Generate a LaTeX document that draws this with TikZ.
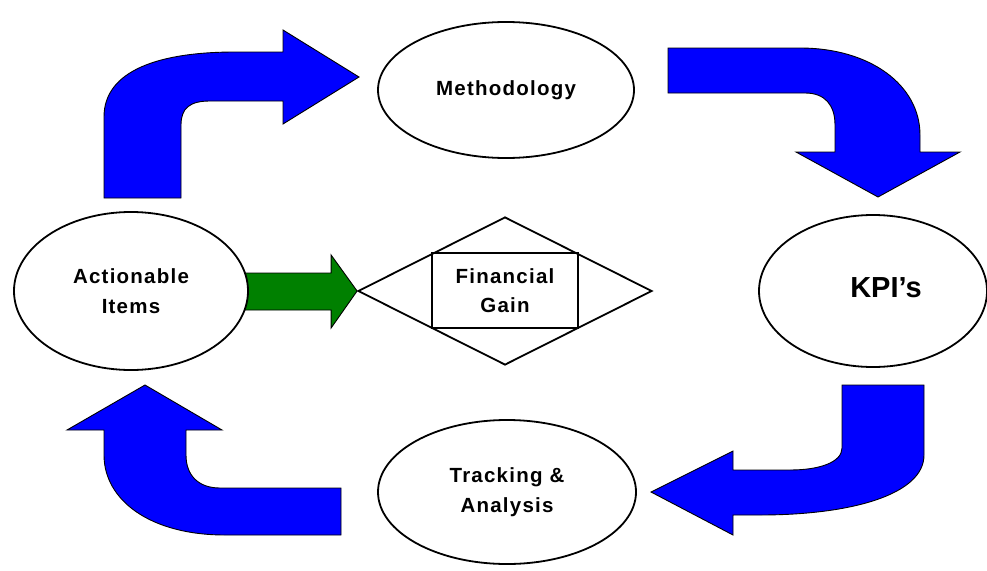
\documentclass[tikz,border=0pt]{standalone}
\usepackage{fontspec}
\setmainfont{Liberation Sans}
\newfontfamily\lbl[LetterSpace=6]{Liberation Sans}
\usetikzlibrary{shapes.geometric,calc,backgrounds}

\definecolor{flowblue}{RGB}{0,0,255}
\definecolor{flowgreen}{RGB}{0,128,0}

\tikzset{
  stage/.style={ellipse, draw=black, line width=1.8pt, fill=white, inner sep=0pt,
    align=center, font=\lbl\bfseries\fontsize{20.5}{30}\selectfont},
  bigarrow/.style={fill=flowblue, draw=black, line width=0.9pt, line join=miter},
  gainarrow/.style={fill=flowgreen, draw=black, line width=0.9pt},
}

\begin{document}
\begin{tikzpicture}[x=1pt, y=-1pt]
\useasboundingbox (0,0) rectangle (987,570);

% stages of the cycle
\node[stage, minimum width=256pt, minimum height=136pt] (meth) at (506,90) {Methodology};
\node[stage, minimum width=228pt, minimum height=152pt,
      font=\bfseries\fontsize{29}{34}\selectfont] (kpi) at (873,291)
      {\hspace*{26pt}\raisebox{7pt}{KPI’s}};
\node[stage, minimum width=234pt, minimum height=158pt] (act) at (131,291) {Actionable\\Items};
\node[stage, minimum width=258pt, minimum height=144pt] (track) at (507,492) {Tracking \&\\Analysis};

% outcome
\node[diamond, draw=black, line width=1.8pt, minimum width=294pt, minimum height=148pt,
      inner sep=0pt] (fg) at (505,291) {};
\node[draw=black, line width=1.2pt, minimum width=146pt, minimum height=75pt, inner sep=0pt,
      align=center, font=\lbl\bfseries\fontsize{20.5}{29}\selectfont] (gain) at (505,290.5) {Financial\\Gain};

\begin{scope}[on background layer]
% actionable items -> financial gain
\draw[gainarrow] ($(act.east)+(-8,-18)$) -- ($(fg.west)+(-26,-18)$) -- ($(fg.west)+(-26,-36)$)
  -- (fg.west) -- ($(fg.west)+(-26,37)$) -- ($(fg.west)+(-26,19)$) -- ($(act.east)+(-8,19)$) -- cycle;
\end{scope}

% actionable items -> methodology
\draw[bigarrow] (104,198) -- (104,117) .. controls (104,70) and (160,52) .. (235,52)
  -- (283,52) -- (283,30) -- (359,77) -- (283,124) -- (283,101) -- (210,101)
  .. controls (190,101) and (181,108) .. (181,125) -- (181,198) -- cycle;

% methodology -> KPI's
\draw[bigarrow] (668,48) -- (800,48) .. controls (870,48) and (920,85) .. (920,135)
  -- (920,152) -- (960,152) -- (878,197) -- (796,152) -- (835,152) -- (835,125)
  .. controls (835,105) and (825,93) .. (805,93) -- (668,93) -- cycle;

% KPI's -> tracking & analysis
\draw[bigarrow] (842,385) -- (924,385) -- (924,455) .. controls (924,495) and (850,515) .. (760,515)
  -- (733,515) -- (733,535) -- (651,492) -- (733,451) -- (733,470) -- (790,470)
  .. controls (820,470) and (842,462) .. (842,448) -- cycle;

% tracking & analysis -> actionable items
\draw[bigarrow] (341,488) -- (341,535) -- (225,535) .. controls (150,535) and (104,500) .. (104,455)
  -- (104,430) -- (67,430) -- (145,385) -- (222,430) -- (186,430) -- (186,455)
  .. controls (186,475) and (198,488) .. (220,488) -- cycle;
\end{tikzpicture}
\end{document}
